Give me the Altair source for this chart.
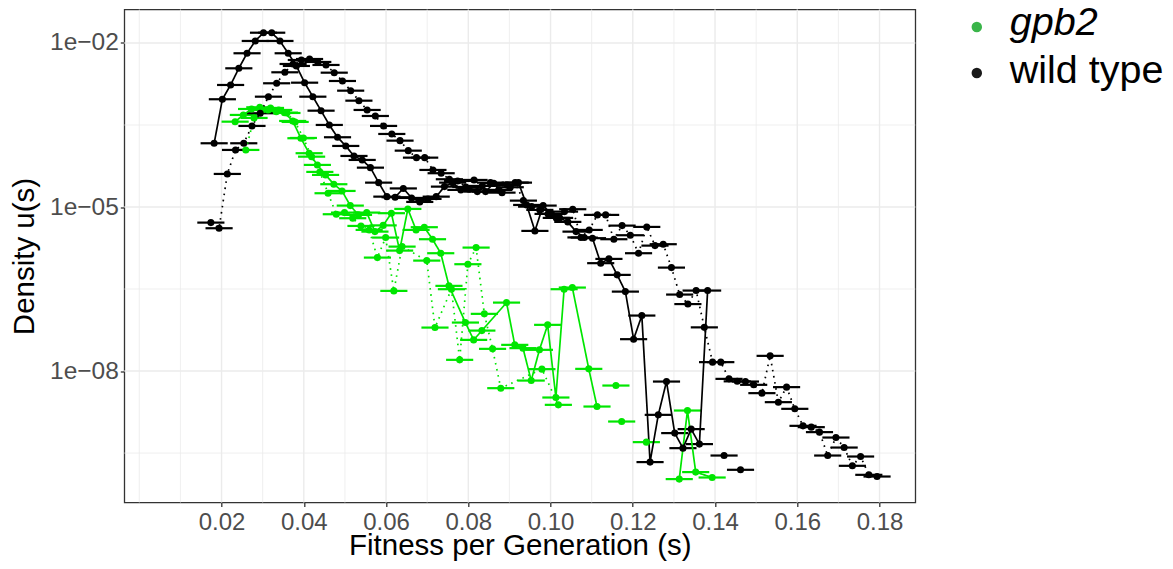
import altair as alt
import pandas as pd

FONT = "Liberation Sans"

# ---------------- data ----------------
# x = fitness per generation, values = log10 of density u(s); None = break in the line
wt_solid_x = [0.0182, 0.0202, 0.0222, 0.0242, 0.0262, 0.0282, 0.0302, 0.0322, 0.0342, 0.0362,
              0.0382, 0.0402, 0.0422, 0.0442, 0.0462, 0.0482, 0.0502, 0.0522, 0.0542, 0.0562,
              0.0582, 0.0602, 0.0622, 0.0642, 0.0662, 0.0682, 0.0702, 0.0722, 0.0742, 0.0762,
              0.0782, 0.0802, 0.0822, 0.0842, 0.0862, 0.0882, 0.0902, 0.0922, 0.0942, 0.0962,
              0.0982, 0.1002, 0.1022, 0.1042, 0.1062, 0.1082, 0.1102, 0.1122, 0.1142, 0.1162,
              0.1182, 0.1202, 0.1222, 0.1242, 0.1262, 0.1282, 0.1302, 0.1322, 0.1342, 0.1362,
              0.1382, 0.1402, 0.1422, 0.1442, 0.1462]
wt_solid_log10u = [-3.834, -3.029, -2.768, -2.463, -2.188, -1.963, -1.812, -1.812, -1.963, -2.188,
                   -2.420, -2.726, -2.982, -3.238, -3.499, -3.724, -3.883, -4.066, -4.139, -4.280,
                   -4.554, -4.810, -4.821, -4.660, -4.834, -4.907, -4.852, -4.810, -4.627, -4.554,
                   -4.687, -4.675, -4.718, -4.718, -4.565, -4.737, -4.638, -4.554, -4.962, -5.437,
                   -4.974, -5.126, -5.199, -5.272, -5.450, -5.559, -5.570, -6.027, -5.949, -6.241,
                   -6.547, -7.417, -6.985, -9.665, -8.801, -8.192, -9.135, -9.410, -9.062, -9.336,
                   -6.528, None, -9.545, None, -9.806]

wt_dotted_x = [0.0174, 0.0194, 0.0214, 0.0234, 0.0254, 0.0274, 0.0294, 0.0314, 0.0334, 0.0354,
               0.0374, 0.0394, 0.0414, 0.0434, 0.0454, 0.0474, 0.0494, 0.0514, 0.0534, 0.0554,
               0.0574, 0.0594, 0.0614, 0.0634, 0.0654, 0.0674, 0.0694, 0.0714, 0.0734, 0.0754,
               0.0774, 0.0794, 0.0814, 0.0834, 0.0854, 0.0874, 0.0894, 0.0914, 0.0934, 0.0954,
               0.0974, 0.0994, 0.1014, 0.1034, 0.1054, 0.1074, 0.1094, 0.1114, 0.1134, 0.1154,
               0.1174, 0.1194, 0.1214, 0.1234, 0.1254, 0.1274, 0.1294, 0.1314, 0.1334, 0.1354,
               0.1374, 0.1394, 0.1414, 0.1434, 0.1454, 0.1474, 0.1494, 0.1514, 0.1534, 0.1554,
               0.1574, 0.1594, 0.1614, 0.1634, 0.1654, 0.1674, 0.1694, 0.1714, 0.1734, 0.1754,
               0.1774, 0.1794]
wt_dotted_log10u = [-5.285, -5.388, -4.395, -3.956, -3.834, -3.517, -3.285, -2.982, -2.737, -2.536,
                    -2.384, -2.311, -2.293, -2.347, -2.402, -2.543, -2.695, -2.872, -3.055, -3.225,
                    -3.335, -3.517, -3.664, -3.786, -3.969, -4.097, -4.097, -4.322, -4.382, -4.492,
                    -4.523, -4.633, -4.505, -4.614, -4.554, -4.687, -4.596, -4.554, -4.883, -4.993,
                    -5.053, -5.126, -5.199, -5.084, -5.040, -5.556, -5.419, -5.144, -5.144, -5.589,
                    -5.340, -5.516, -5.845, -5.364, -5.706, -5.680, -6.108, -6.601, -6.775, -6.528,
                    -7.201, -7.837, -7.837, -8.143, -8.188, -8.192, -8.252, -8.404, -7.722, -8.569,
                    -8.294, -8.691, -9.002, -9.026, -9.117, -9.545, -9.216, -9.399, -9.733, -9.563,
                    -9.898, -9.929]

gpb2_solid_x = [0.0233, 0.0253, 0.0273, 0.0293, 0.0313, 0.0333, 0.0353, 0.0373, 0.0393, 0.0413,
                0.0433, 0.0453, 0.0473, 0.0493, 0.0513, 0.0533, 0.0553, 0.0573, 0.0593, 0.0613,
                0.0633, 0.0653, 0.0673, 0.0693, 0.0713, 0.0733, 0.0753, 0.0793, 0.0813, 0.0833,
                0.0893, 0.0913, 0.0933, 0.0953, 0.0973, 0.0993, 0.1013, 0.1033, 0.1053, 0.1093,
                0.1113, 0.1133, 0.1173, 0.1193, 0.1233, 0.1253, 0.1313, 0.1333, 0.1353, 0.1393]
gpb2_solid_log10u = [-3.439, -3.316, -3.207, -3.176, -3.225, -3.256, -3.274, -3.426, -3.742, -4.016,
                     -4.230, -4.413, -4.583, -4.706, -4.974, -5.144, -5.102, -5.450, -5.336, -5.113,
                     -5.797, -5.035, -5.419, -5.369, -5.589, -5.845, -6.442, -7.113, -7.430, -7.260,
                     -6.748, -7.521, -7.581, -8.174, -7.612, -7.155, -8.484, -6.503, -6.473, -7.960,
                     -8.649, None, -8.923, None, -9.300, None, -9.976, -8.722, -9.848, -9.947]

gpb2_dotted_x = [0.0259, 0.0279, 0.0299, 0.0319, 0.0339, 0.0359, 0.0379, 0.0399, 0.0419, 0.0439,
                 0.0459, 0.0479, 0.0499, 0.0519, 0.0539, 0.0559, 0.0579, 0.0599, 0.0619, 0.0639,
                 0.0699, 0.0719, 0.0759, 0.0779, 0.0799, 0.0819, 0.0839, 0.0859, 0.0879, 0.0979,
                 0.1019, 0.1139, 0.1159]
gpb2_dotted_log10u = [-3.956, -3.371, -3.225, -3.188, -3.225, -3.280, -3.444, -3.737, -4.079, -4.358,
                      -4.748, -5.132, -5.102, -5.205, -5.346, -5.419, -5.925, -5.559, -6.534, -5.724,
                      -5.980, -7.205, -6.503, -7.795, -6.046, -5.742, -6.954, -7.594, -8.313, -7.965,
                      -8.618, None, -8.265]

XERR = 0.0033  # half width of the horizontal error bars

genotypes = ["gpb2", "wild type"]
data_colors = ["#00E600", "#000000"]
legend_colors = ["#3AB54A", "#1A1A1A"]
linetypes = ["solid", "dotted"]

x_ticks = [0.02, 0.04, 0.06, 0.08, 0.10, 0.12, 0.14, 0.16, 0.18]
x_minor = [0.00, 0.01, 0.03, 0.05, 0.07, 0.09, 0.11, 0.13, 0.15, 0.17]
y_ticks = [1e-2, 1e-5, 1e-8]
y_tick_labels = ["1e\u221202", "1e\u221205", "1e\u221208"]
y_minor = [10 ** -3.5, 10 ** -6.5, 10 ** -9.5]

X_DOMAIN = [-0.00365, 0.1887]
Y_DOMAIN = [10 ** -10.404, 10 ** -1.3876]


def build(xs, logs, geno, ltype):
    rows, seg = [], 0
    for x, v in zip(xs, logs):
        if v is None:
            seg += 1
            continue
        rows.append({"x": x, "u": 10 ** v, "xlo": x - XERR, "xhi": x + XERR,
                     "genotype": geno, "ltype": ltype, "grp": f"{geno}|{ltype}|{seg}"})
    return rows


rows = (build(gpb2_solid_x, gpb2_solid_log10u, "gpb2", "solid")
        + build(gpb2_dotted_x, gpb2_dotted_log10u, "gpb2", "dotted")
        + build(wt_solid_x, wt_solid_log10u, "wild type", "solid")
        + build(wt_dotted_x, wt_dotted_log10u, "wild type", "dotted"))
df = pd.DataFrame(rows)

# ---------------- scales / axes ----------------
xs = alt.Scale(domain=X_DOMAIN, nice=False, zero=False)
ys = alt.Scale(type="log", domain=Y_DOMAIN, nice=False)
label_expr = " : ".join(
    [f"abs(log(datum.value)/log(10) - ({v:.0f})) < 0.1 ? '{lab}'" for v, lab in
     zip([-2, -5, -8], y_tick_labels)]) + " : ''"

xaxis = alt.Axis(values=x_ticks, format=".2f", grid=False, domain=False,
                 tickColor="#333333", tickWidth=1.3, tickSize=4,
                 labelColor="#4D4D4D", labelFontSize=24, labelFont=FONT, labelPadding=4,
                 titleFont=FONT, titleFontSize=29.5, titleColor="#000000",
                 titleFontWeight="normal", titleY=52, titleBaseline="alphabetic")
yaxis = alt.Axis(values=y_ticks, labelExpr=label_expr, grid=False, domain=False,
                 tickColor="#333333", tickWidth=1.3, tickSize=4,
                 labelColor="#4D4D4D", labelFontSize=24.5, labelFont=FONT, labelPadding=2,
                 titleFont=FONT, titleFontSize=29.5, titleColor="#000000",
                 titleFontWeight="normal", titlePadding=10)

X = lambda f: alt.X(f, scale=xs, axis=xaxis, title="Fitness per Generation (s)")
Y = lambda f: alt.Y(f, scale=ys, axis=yaxis, title="Density u(s)")

color = alt.Color("genotype:N", scale=alt.Scale(domain=genotypes, range=data_colors), legend=None)
dash = alt.StrokeDash("ltype:N", scale=alt.Scale(domain=linetypes, range=[[1, 0], [1.6, 4.6]]),
                      legend=None)

# ---------------- grid ----------------
grid_x_major = alt.Chart(pd.DataFrame({"x": x_ticks})).mark_rule(
    color="#EBEBEB", strokeWidth=1.4).encode(x=X("x:Q"))
grid_x_minor = alt.Chart(pd.DataFrame({"x": x_minor})).mark_rule(
    color="#EBEBEB", strokeWidth=0.8).encode(x=X("x:Q"))
grid_y_major = alt.Chart(pd.DataFrame({"u": y_ticks})).mark_rule(
    color="#EBEBEB", strokeWidth=1.4).encode(y=Y("u:Q"))
grid_y_minor = alt.Chart(pd.DataFrame({"u": y_minor})).mark_rule(
    color="#EBEBEB", strokeWidth=0.8).encode(y=Y("u:Q"))

# ---------------- data layers ----------------
bars = alt.Chart(df).mark_rule(strokeWidth=2.2).encode(
    x=X("xlo:Q"), x2="xhi:Q", y=Y("u:Q"), color=color)
lines = alt.Chart(df).mark_line(strokeWidth=1.7, strokeCap="butt").encode(
    x=X("x:Q"), y=Y("u:Q"), color=color, strokeDash=dash, detail="grp:N",
    order=alt.Order("x:Q"))
points = alt.Chart(df).mark_circle(size=50, opacity=1).encode(
    x=X("x:Q"), y=Y("u:Q"), color=color)

# ---------------- legend (drawn manually, italic gene name) ----------------
legend_layers = []
legend_y = [17.5, 63.5]
legend_text_y = [25.5, 73.8]
legend_styles = ["italic", "normal"]
for i, g in enumerate(genotypes):
    ld = pd.DataFrame({"label": [g]})
    legend_layers.append(alt.Chart(ld).mark_circle(size=110, opacity=1, color=legend_colors[i]).encode(
        x=alt.value(852.5), y=alt.value(legend_y[i])))
    legend_layers.append(alt.Chart(ld).mark_text(
        align="left", baseline="alphabetic", fontSize=39.5, font=FONT,
        fontStyle=legend_styles[i], color="#000000").encode(
        x=alt.value(885.5), y=alt.value(legend_text_y[i]), text="label:N"))

chart = alt.layer(
    grid_x_minor, grid_y_minor, grid_x_major, grid_y_major,
    bars, lines, points, *legend_layers
).properties(
    width=791, height=493,
    background="#FFFFFF",
    autosize=alt.AutoSizeParams(type="none"),
    padding={"left": 116.3, "top": 1.5, "right": 248.5, "bottom": 58},
).configure_view(stroke="#333333", strokeWidth=1.3)

chart.save("out.html", embed_options={"renderer": "svg", "actions": False})
